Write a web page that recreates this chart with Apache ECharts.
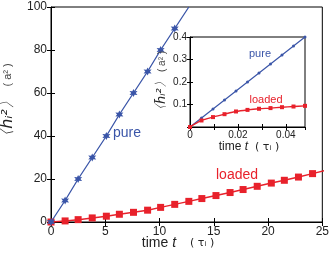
<!DOCTYPE html>
<html><head><meta charset="utf-8">
<script src="https://cdn.jsdelivr.net/npm/echarts@6/dist/echarts.min.js"></script>
<style>html,body{margin:0;padding:0;background:#fff}#c{width:332px;height:271px}</style>
</head><body><div id="c"></div>
<script>
// main plot data
const pureT = [0,1.3,2.5,3.8,5.1,6.3,7.6,8.9,10.1,11.4,12.7];
const pureH = [0,10,20,30,40,50,60,70,80,90,100];
const loadedT = [0,1.3,2.5,3.8,5.1,6.3,7.6,8.9,10.1,11.4,12.7,13.9,15.2,16.5,17.7,19.0,20.3,21.5,22.8,24.1,25.3];
const loadedH = [0,0.5,1.1,1.9,2.7,3.6,4.5,5.5,6.8,8.2,9.6,10.9,12.3,13.7,15.1,16.6,18.1,19.4,20.9,22.5,24.0];
// inset data
const insetT = [0,0.0048,0.0096,0.0144,0.0192,0.024,0.0288,0.0336,0.0384,0.0432,0.048];
const insetPure = [0,0.04,0.08,0.12,0.16,0.2,0.24,0.28,0.32,0.36,0.4];
const insetLoaded = [0,0.029,0.044,0.057,0.069,0.076,0.081,0.084,0.088,0.091,0.094];
// ticks
const mainXTicks = [0,5,10,15,20,25];
const mainYTicks = [0,20,40,60,80,100];
const insetXLabels = ['0','0.02','0.04'];
const insetYLabels = ['0.1','0.2','0.3','0.4'];

const BLUE = '#3a55a8', RED = '#e8212b';
const FONT = 'Liberation Sans, Arial, sans-serif';
const STAR = 'path://M0,-10 L2.5,-4.3 L8.7,-5 L5,0 L8.7,5 L2.5,4.3 L0,10 L-2.5,4.3 L-8.7,5 L-5,0 L-8.7,-5 L-2.5,-4.3 Z';
const pair = (xs, ys) => xs.map((x,i)=>[x, ys[i]]);
// hide marker of points lying on the plot frame (clipped in the original)
const pairNoEdge = (xs, ys, ymax) => xs.map((x,i)=> ys[i] >= ymax ? {value:[x, ys[i]], symbolSize:0} : [x, ys[i]]);

const chart = echarts.init(document.getElementById('c'), null, {renderer:'canvas'});
const hideAll = {axisLine:{show:false}, axisLabel:{show:false}, splitLine:{show:false}};
const tickIn = (len) => ({show:true, inside:true, length:len, lineStyle:{color:'#000', width:1}});

const opt = {
  animation:false,
  backgroundColor:'#fff',
  grid:[
    {left:51, top:7, width:272, height:215, show:true, borderColor:'#000', borderWidth:1, backgroundColor:'transparent'},
    {left:190, top:37, width:115, height:90, show:true, borderColor:'#000', borderWidth:1, backgroundColor:'#fff', z:5}
  ],
  xAxis:[
    {gridIndex:0, type:'value', min:0, max:25, interval:5, position:'bottom',
     axisLine:{show:true, lineStyle:{color:'#000'}}, axisTick:tickIn(4), splitLine:{show:false},
     axisLabel:{color:'#222', fontSize:12, fontFamily:FONT, margin:4,
       formatter:v=> mainXTicks.includes(v)? String(v):''}},
    Object.assign({gridIndex:0, type:'value', min:0, max:25, interval:5, position:'top', axisTick:tickIn(4)}, hideAll),
    {gridIndex:1, type:'value', min:0, max:0.048, interval:0.01, position:'bottom', z:6,
     axisLine:{show:true, lineStyle:{color:'#000'}}, axisTick:tickIn(3), splitLine:{show:false},
     axisLabel:{color:'#222', fontSize:10, fontFamily:FONT, margin:3, showMaxLabel:false,
       formatter:v=>{const s = (Math.abs(v)<1e-9)?'0':(Math.abs(v-0.02)<1e-9?'0.02':(Math.abs(v-0.04)<1e-9?'0.04':'')); return insetXLabels.includes(s)? s:'';}}},
    Object.assign({gridIndex:1, type:'value', min:0, max:0.048, interval:0.01, position:'top', z:6, axisTick:tickIn(3)}, hideAll)
  ],
  yAxis:[
    {gridIndex:0, type:'value', min:0, max:100, interval:20, position:'left',
     axisLine:{show:true, lineStyle:{color:'#000'}}, axisTick:tickIn(4), splitLine:{show:false},
     axisLabel:{color:'#222', fontSize:12, fontFamily:FONT, margin:4,
       formatter:v=> mainYTicks.includes(v)? String(v):''}},
    Object.assign({gridIndex:0, type:'value', min:0, max:100, interval:20, position:'right', axisTick:tickIn(4)}, hideAll),
    {gridIndex:1, type:'value', min:0, max:0.4, interval:0.1, position:'left', z:6,
     axisLine:{show:true, lineStyle:{color:'#000'}}, axisTick:tickIn(3), splitLine:{show:false},
     axisLabel:{color:'#222', fontSize:10, fontFamily:FONT, margin:3,
       formatter:v=>{const s=(Math.round(v*10)/10).toString(); return insetYLabels.includes(s)? s:'';}}},
    Object.assign({gridIndex:1, type:'value', min:0, max:0.4, interval:0.1, position:'right', z:6, axisTick:tickIn(3)}, hideAll)
  ],
  series:[
    {type:'line', xAxisIndex:0, yAxisIndex:0, data:pair(loadedT, loadedH), clip:true,
     symbol:'rect', symbolSize:7, itemStyle:{color:RED}, lineStyle:{color:RED, width:1.5}, z:2},
    {type:'line', xAxisIndex:0, yAxisIndex:0, data:pairNoEdge(pureT, pureH, 100), clip:true,
     symbol:STAR, symbolSize:8, itemStyle:{color:BLUE}, lineStyle:{color:BLUE, width:1.3}, z:3},
    {type:'line', xAxisIndex:2, yAxisIndex:2, data:pair(insetT, insetPure), clip:true,
     symbol:'circle', symbolSize:3, itemStyle:{color:BLUE}, lineStyle:{color:BLUE, width:1.2}, z:7},
    {type:'line', xAxisIndex:2, yAxisIndex:2, data:pair(insetT, insetLoaded), clip:true, smooth:0.3,
     symbol:'rect', symbolSize:4, itemStyle:{color:RED}, lineStyle:{color:RED, width:1.4}, z:7}
  ],
  graphic:[
    {type:'text', x:8, y:104, rotation:Math.PI/2, z:10,
     style:{text:'{h|〈h̄ᵢ²〉}  {u|( a² )}', rich:{
       h:{fontSize:16, fontFamily:'DejaVu Sans', fontStyle:'italic', fill:'#222'},
       u:{fontSize:11, fontFamily:FONT, fill:'#444'}}, textAlign:'center', textVerticalAlign:'middle'}},
    {type:'text', x:178, y:243, z:10,
     style:{text:'{a|time }{i|t}{s|    ( τᵢ )}', rich:{
       a:{fontSize:14, fontFamily:FONT, fill:'#222'},
       i:{fontSize:14, fontFamily:FONT, fontStyle:'italic', fill:'#222'},
       s:{fontSize:11, fontFamily:'DejaVu Sans', fill:'#222'}}, textAlign:'center', textVerticalAlign:'middle'}},
    {type:'text', x:162, y:84, rotation:Math.PI/2, z:10,
     style:{text:'{h|〈h̄ᵢ²〉} {u|( a² )}', rich:{
       h:{fontSize:13, fontFamily:'DejaVu Sans', fontStyle:'italic', fill:'#222'},
       u:{fontSize:10, fontFamily:FONT, fill:'#444'}}, textAlign:'center', textVerticalAlign:'middle'}},
    {type:'text', x:249, y:147, z:10,
     style:{text:'{a|time }{i|t}{s|  ( τᵢ )}', rich:{
       a:{fontSize:12, fontFamily:FONT, fill:'#222'},
       i:{fontSize:12, fontFamily:FONT, fontStyle:'italic', fill:'#222'},
       s:{fontSize:11, fontFamily:'DejaVu Sans', fill:'#222'}}, textAlign:'center', textVerticalAlign:'middle'}},
    {type:'text', x:127, y:133, z:10, style:{text:'pure', fontSize:14, fontFamily:FONT, fill:BLUE, textAlign:'center', textVerticalAlign:'middle'}},
    {type:'text', x:237, y:175, z:10, style:{text:'loaded', fontSize:14, fontFamily:FONT, fill:RED, textAlign:'center', textVerticalAlign:'middle'}},
    {type:'text', x:260, y:54, z:10, style:{text:'pure', fontSize:11, fontFamily:FONT, fill:BLUE, textAlign:'center', textVerticalAlign:'middle'}},
    {type:'text', x:266, y:100, z:10, style:{text:'loaded', fontSize:11, fontFamily:FONT, fill:RED, textAlign:'center', textVerticalAlign:'middle'}}
  ]
};
chart.setOption(opt);
</script></body></html>
